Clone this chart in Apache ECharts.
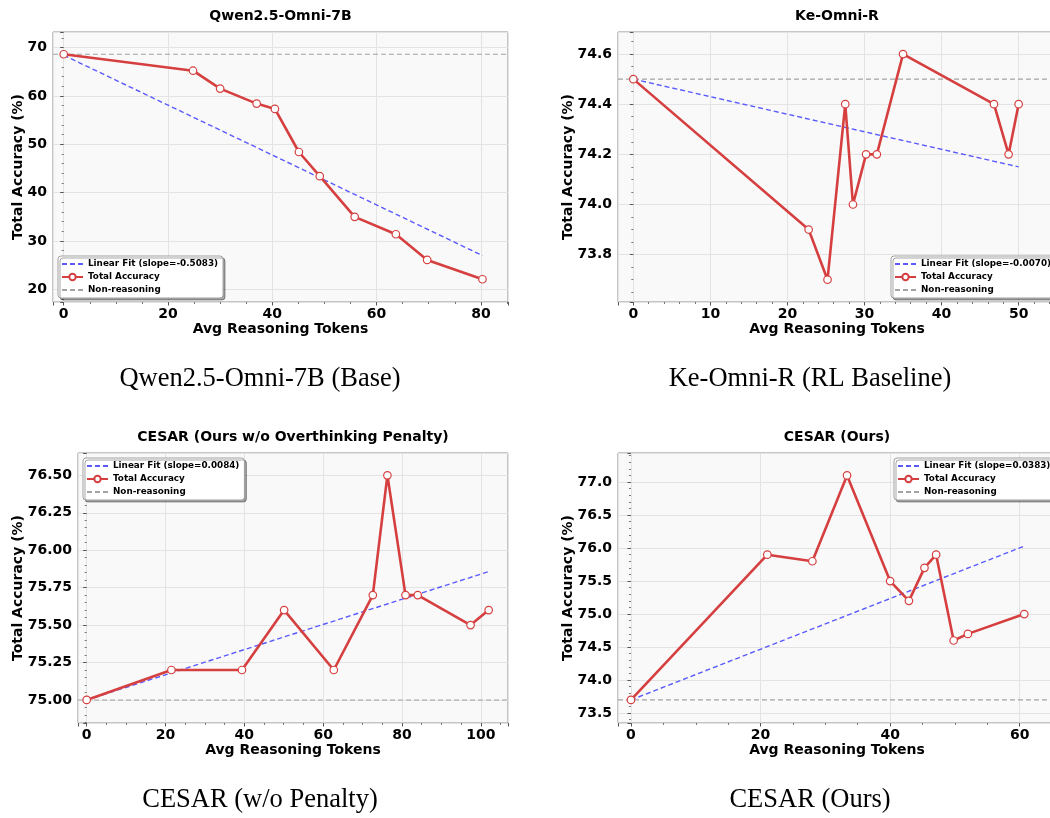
<!DOCTYPE html>
<html>
<head>
<meta charset="utf-8">
<script src="https://cdn.jsdelivr.net/npm/echarts@6/dist/echarts.min.js"></script>
<style>
html,body{margin:0;padding:0;background:#fff;}
#chart{width:1050px;height:818px;}
</style>
</head>
<body>
<div id="chart"></div>
<script>
// ---------------- data ----------------
const titles = ['Qwen2.5-Omni-7B', 'Ke-Omni-R', 'CESAR (Ours w/o Overthinking Penalty)', 'CESAR (Ours)'];
const captions = ['Qwen2.5-Omni-7B (Base)', 'Ke-Omni-R (RL Baseline)', 'CESAR (w/o Penalty)', 'CESAR (Ours)'];
const fitNames = ['Linear Fit (slope=-0.5083)', 'Linear Fit (slope=-0.0070)', 'Linear Fit (slope=0.0084)', 'Linear Fit (slope=0.0383)'];

const qwenTokens = [0, 24.8, 30.0, 37.0, 40.5, 45.1, 49.1, 55.8, 63.7, 69.7, 80.3];
const qwenAcc    = [68.6, 65.2, 61.5, 58.4, 57.3, 48.4, 43.4, 35.0, 31.4, 26.1, 22.1];
const qwenFitX   = [0, 80.3];
const qwenFitY   = [68.4, 27.0];
const qwenBase   = 68.6;

const keTokens = [0, 22.75, 25.2, 27.5, 28.5, 30.2, 31.6, 35.0, 46.8, 48.7, 50.0];
const keAcc    = [74.5, 73.9, 73.7, 74.4, 74.0, 74.2, 74.2, 74.6, 74.4, 74.2, 74.4];
const keFitX   = [0, 50.0];
const keFitY   = [74.5, 74.15];
const keBase   = 74.5;

const noPenTokens = [0, 21.5, 39.4, 50.1, 62.7, 72.6, 76.3, 80.9, 84.0, 97.4, 102.0];
const noPenAcc    = [75.0, 75.2, 75.2, 75.6, 75.2, 75.7, 76.5, 75.7, 75.7, 75.5, 75.6];
const noPenFitX   = [0, 102.0];
const noPenFitY   = [75.0, 75.857];
const noPenBase   = 75.0;

const cesarTokens = [0, 21.05, 28.0, 33.35, 40.0, 42.9, 45.3, 47.1, 49.8, 52.0, 60.7];
const cesarAcc    = [73.7, 75.9, 75.8, 77.1, 75.5, 75.2, 75.7, 75.9, 74.6, 74.7, 75.0];
const cesarFitX   = [0, 60.7];
const cesarFitY   = [73.7, 76.03];
const cesarBase   = 73.7;

// tick settings per panel
const xTickStep = [20, 10, 20, 20];
const yTickStep = [10, 0.2, 0.25, 0.5];
const yDecimals = [0, 1, 2, 1];

// ---------------- layout / styling ----------------
const panels = [
  {tokens: qwenTokens, acc: qwenAcc, fx: qwenFitX, fy: qwenFitY, base: qwenBase,
   grid: {left: 53, top: 32, width: 455, height: 270}, x: [-2.05, 85.2], y: [17.4, 73.2],
   xMinor: 4, yMinor: 5, yNameGap: 28, legend: {left: 58, top: 256}, cap: [260, 379]},
  {tokens: keTokens, acc: keAcc, fx: keFitX, fy: keFitY, base: keBase,
   grid: {left: 618, top: 32, width: 438, height: 270}, x: [-1.99, 54.85], y: [73.611, 74.688],
   xMinor: 5, yMinor: 4, yNameGap: 43, legend: {left: 891, top: 256}, cap: [810, 379]},
  {tokens: noPenTokens, acc: noPenAcc, fx: noPenFitX, fy: noPenFitY, base: noPenBase,
   grid: {left: 78, top: 453, width: 430, height: 270}, x: [-2.2, 106.9], y: [74.846, 76.649],
   xMinor: 4, yMinor: 5, yNameGap: 53, legend: {left: 83, top: 458}, cap: [260, 800]},
  {tokens: cesarTokens, acc: cesarAcc, fx: cesarFitX, fy: cesarFitY, base: cesarBase,
   grid: {left: 618, top: 453, width: 438, height: 270}, x: [-2.0, 65.6], y: [73.35, 77.44],
   xMinor: 4, yMinor: 5, yNameGap: 43, legend: {left: 894, top: 458}, cap: [810, 800]}
];

const RED = '#d63f3f', BLUE = '#5a5aff', GRAY = '#a3a3a3';
const FONT = '"DejaVu Sans", sans-serif';
const HIDDEN = 'rgba(0,0,0,0)';

function fmt(step, dec) {
  return function (v) {
    const r = v / step;
    if (Math.abs(r - Math.round(r)) > 1e-6) return '';
    return dec > 0 ? v.toFixed(dec) : String(Math.round(v));
  };
}

const grids = [], xAxes = [], yAxes = [], series = [], legends = [], graphics = [];
panels.forEach((p, i) => {
  grids.push(Object.assign({show: true, backgroundColor: '#f9f9f9', borderColor: '#8f8f8f', borderWidth: 1,
    containLabel: false, outerBoundsMode: 'none'}, p.grid));
  const axisCommon = {
    gridIndex: i, type: 'value',
    axisLine: {show: false},
    axisTick: {show: true, length: 3.5, lineStyle: {color: '#555', width: 1}},
    minorTick: {show: true, length: 2, lineStyle: {color: '#555', width: 0.8}},
    splitLine: {show: true, lineStyle: {color: '#e3e3e3', width: 1}},
    nameLocation: 'middle', nameMoveOverlap: false,
    nameTextStyle: {fontFamily: FONT, fontWeight: 'bold', fontSize: 14, color: '#000'}
  };
  xAxes.push(Object.assign({}, axisCommon, {
    min: p.x[0], max: p.x[1], minInterval: xTickStep[i], maxInterval: xTickStep[i],
    minorTick: Object.assign({}, axisCommon.minorTick, {splitNumber: p.xMinor}),
    name: 'Avg Reasoning Tokens', nameGap: 20,
    axisLabel: {margin: 5, fontFamily: FONT, fontWeight: 'bold', fontSize: 14, color: '#000',
      formatter: fmt(xTickStep[i], 0)}
  }));
  yAxes.push(Object.assign({}, axisCommon, {
    min: p.y[0], max: p.y[1], minInterval: yTickStep[i], maxInterval: yTickStep[i],
    minorTick: Object.assign({}, axisCommon.minorTick, {splitNumber: p.yMinor}),
    name: 'Total Accuracy (%)', nameGap: p.yNameGap, nameRotate: 90,
    axisLabel: {margin: 6, fontFamily: FONT, fontWeight: 'bold', fontSize: 14, color: '#000',
      formatter: fmt(yTickStep[i], yDecimals[i])}
  }));

  series.push({
    name: 'Non-reasoning', type: 'line', xAxisIndex: i, yAxisIndex: i, z: 1,
    data: [[p.x[0], p.base], [p.x[1], p.base]], symbol: 'none', silent: true,
    lineStyle: {color: GRAY, width: 1.1, type: [5, 3]}, itemStyle: {color: HIDDEN, borderWidth: 0}
  });
  series.push({
    name: fitNames[i], type: 'line', xAxisIndex: i, yAxisIndex: i, z: 2,
    data: p.fx.map((x, k) => [x, p.fy[k]]), symbol: 'none', silent: true,
    lineStyle: {color: BLUE, width: 1.4, type: [5, 3]}, itemStyle: {color: HIDDEN, borderWidth: 0}
  });
  series.push({
    name: 'Total Accuracy', type: 'line', xAxisIndex: i, yAxisIndex: i, z: 3,
    data: p.tokens.map((x, k) => [x, p.acc[k]]),
    symbol: 'circle', symbolSize: 7.5, showSymbol: true,
    lineStyle: {color: RED, width: 2.6},
    itemStyle: {color: '#fff', borderColor: RED, borderWidth: 1.2}
  });

  legends.push({
    orient: 'vertical', left: p.legend.left, top: p.legend.top,
    data: [
      {name: fitNames[i], itemStyle: {opacity: 0, color: HIDDEN, borderWidth: 0}},
      {name: 'Total Accuracy'},
      {name: 'Non-reasoning', itemStyle: {opacity: 0, color: HIDDEN, borderWidth: 0}}
    ],
    selectedMode: false, itemWidth: 21, itemHeight: 8, itemGap: 3,
    padding: [3, 5, 3, 3],
    backgroundColor: '#ffffff', borderColor: '#a0a0a0', borderWidth: 1, borderRadius: 3,
    shadowColor: 'rgba(0,0,0,0.35)', shadowOffsetX: 2, shadowOffsetY: 2, shadowBlur: 0,
    textStyle: {fontFamily: FONT, fontWeight: 'bold', fontSize: 8.8, color: '#000', lineHeight: 10}
  });

  const cx = p.grid.left + p.grid.width / 2;
  graphics.push({
    type: 'text', x: cx, y: p.grid.top - 16,
    style: {text: titles[i], font: 'bold 14px ' + FONT, fill: '#000',
      align: 'center', verticalAlign: 'middle', textAlign: 'center', textVerticalAlign: 'middle'}
  });
  graphics.push({
    type: 'text', x: p.cap[0], y: p.cap[1],
    style: {text: captions[i], font: '26.5px "Liberation Serif", "Times New Roman", serif', fill: '#000',
      align: 'center', verticalAlign: 'middle', textAlign: 'center', textVerticalAlign: 'middle'}
  });
});

const chart = echarts.init(document.getElementById('chart'), null, {renderer: 'canvas'});
chart.setOption({
  animation: false,
  backgroundColor: '#ffffff',
  textStyle: {fontFamily: FONT},
  grid: grids, xAxis: xAxes, yAxis: yAxes, series: series, legend: legends,
  graphic: graphics
});
</script>
</body>
</html>
